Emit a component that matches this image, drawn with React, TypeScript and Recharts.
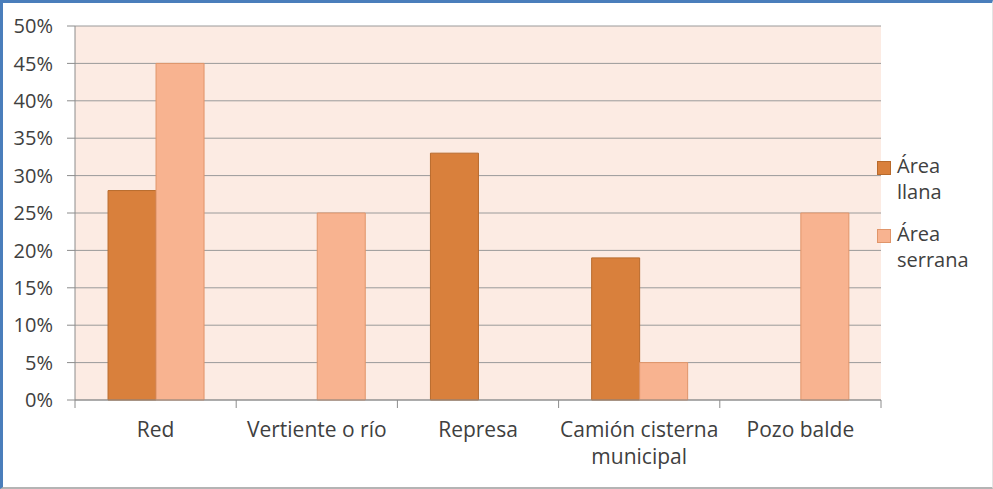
import { BarChart, Bar, XAxis, YAxis, CartesianGrid, Legend } from "recharts";

const categories = ["Red", "Vertiente o río", "Represa", "Camión cisterna municipal", "Pozo balde"];
const areaLlana = [28, 0, 33, 19, 0];
const areaSerrana = [45, 25, 0, 5, 25];
const yTicks = [0, 5, 10, 15, 20, 25, 30, 35, 40, 45, 50];

const data = categories.map((name, i) => ({
  name,
  llana: areaLlana[i],
  serrana: areaSerrana[i],
}));

const FONT = "'Open Sans', sans-serif";
const TEXT = "#404040";
const AXIS = "#8c8c8c";

// greedy word wrap, about 16 characters per line
function wrap(label: string, max = 16) {
  const lines: string[] = [];
  let cur = "";
  for (const w of label.split(" ")) {
    const next = cur ? cur + " " + w : w;
    if (next.length > max && cur) {
      lines.push(cur);
      cur = w;
    } else {
      cur = next;
    }
  }
  if (cur) lines.push(cur);
  return lines;
}

function CategoryTick(props: any) {
  const { x, y, payload, index, visibleTicksCount } = props;
  const half = payload.offset || 0;
  const axisY = y - 22;
  const lines = wrap(String(payload.value));
  return (
    <g>
      <line x1={x - half} x2={x - half} y1={axisY} y2={axisY + 8} stroke={AXIS} />
      {index === visibleTicksCount - 1 && (
        <line x1={x + half} x2={x + half} y1={axisY} y2={axisY + 8} stroke={AXIS} />
      )}
      <text x={x} y={y} textAnchor="middle" fontSize={21} fill={TEXT} fontFamily={FONT}>
        {lines.map((l, i) => (
          <tspan key={i} x={x} dy={i === 0 ? 15 : 27}>
            {l}
          </tspan>
        ))}
      </text>
    </g>
  );
}

function SideLegend(props: any) {
  const { payload } = props;
  return (
    <div style={{ fontFamily: FONT, fontSize: 20, color: TEXT }}>
      {(payload || []).map((item: any, i: number) => (
        <div key={item.value} style={{ position: "relative", height: 68 }}>
          <div
            style={{
              position: "absolute",
              left: 0,
              top: 8,
              width: 12,
              height: 12,
              background: item.color,
              border: "1px solid " + (i === 0 ? "#b86a2c" : "#e0956a"),
            }}
          />
          <div style={{ position: "absolute", left: 20, top: 0, lineHeight: "26px", whiteSpace: "pre" }}>
            {String(item.value).split(" ").join("\n")}
          </div>
        </div>
      ))}
    </div>
  );
}

export default function App() {
  return (
    <div style={{ position: "absolute", left: 0, top: 0, width: 993, height: 489, background: "#fff" }}>
      <BarChart
        width={993}
        height={489}
        data={data}
        margin={{ top: 26, right: 112, bottom: 29, left: 0 }}
        barCategoryGap="20.5%"
        barGap={0}
        style={{ fontFamily: FONT }}
      >
        <CartesianGrid vertical={false} fill="#fcebe3" stroke="#9a9a9a" strokeWidth={1} />
        <XAxis
          dataKey="name"
          height={60}
          axisLine={{ stroke: AXIS }}
          tickLine={false}
          tickSize={0}
          tickMargin={22}
          interval={0}
          tick={<CategoryTick />}
        />
        <YAxis
          width={75}
          domain={[0, 50]}
          ticks={yTicks}
          interval={0}
          tickFormatter={(v: number) => `${v}%`}
          axisLine={{ stroke: AXIS }}
          tickLine={{ stroke: AXIS }}
          tickSize={8}
          tickMargin={14}
          tick={{ fontSize: 20, fill: TEXT, fontFamily: FONT }}
        />
        <Legend
          layout="horizontal"
          verticalAlign="middle"
          align="center"
          content={<SideLegend />}
          wrapperStyle={{ left: 877, top: 153, width: 112, height: 140 }}
        />
        <Bar
          dataKey="llana"
          name="Área llana"
          fill="#d9803c"
          stroke="#b86a2c"
          strokeWidth={1}
          isAnimationActive={false}
        />
        <Bar
          dataKey="serrana"
          name="Área serrana"
          fill="#f8b390"
          stroke="#e0956a"
          strokeWidth={1}
          isAnimationActive={false}
        />
      </BarChart>
      <div
        style={{
          position: "absolute",
          left: 0,
          top: 0,
          width: 993,
          height: 489,
          boxSizing: "border-box",
          borderTop: "3px solid #4a7ebb",
          borderLeft: "3px solid #4a7ebb",
          borderBottom: "2px solid #b4b4b4",
          borderRight: "1px solid #e4e4e4",
          pointerEvents: "none",
        }}
      />
    </div>
  );
}
